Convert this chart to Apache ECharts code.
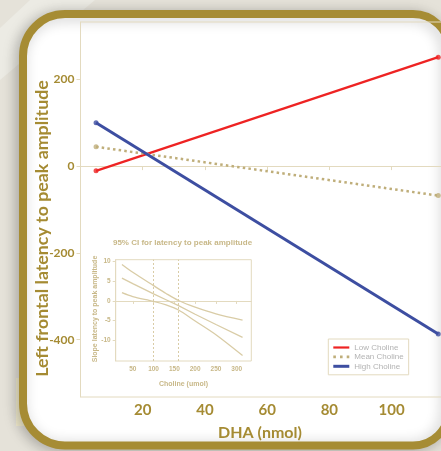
<!DOCTYPE html>
<html>
<head>
<meta charset="utf-8">
<script src="https://cdn.jsdelivr.net/npm/echarts@6/dist/echarts.min.js"></script>
<style>
html,body{margin:0;padding:0;background:#e5e2d9;}
#chart{width:441px;height:451px;}
</style>
</head>
<body>
<div id="chart"></div>
<script>
// ---- main chart data ----
const dha = [5, 115];
const lowCholine = [-11, 251];
const meanCholine = [44.5, -68];
const highCholine = [100, -387];
const mainYTicks = [-400, -200, 0, 200];
const mainXTicks = [20, 40, 60, 80, 100];
const seriesNames = ['Low Choline', 'Mean Choline', 'High Choline'];

// ---- inset (95% CI) data ----
const cholineGrid = [24, 50, 100, 130, 160, 200, 250, 314];
const ciUpper = [9.3, 7.3, 3.9, 1.9, 0.1, -1.6, -3.3, -4.9];
const ciEstimate = [5.8, 4.4, 1.8, 0.3, -1.2, -3.4, -6.0, -9.3];
const ciLower = [2.1, 1.1, -0.1, -1.0, -2.3, -5.1, -8.6, -13.9];
const jnBounds = [100, 160];
const insetXTicks = [50, 100, 150, 200, 250, 300];
const insetYTicks = [-10, -5, 0, 5, 10];

const GOLD = '#a58b33';
const TAN = '#c8b888';
const FRAME = '#e3dabf';
const INSET_LINE = '#d9cca6';
const RED = '#ee2323';
const MEAN = '#bfae7a';
const BLUE = '#3d4ea1';

const pairs = (xs, ys) => xs.map((x, i) => [x, ys[i]]);

const chart = echarts.init(document.getElementById('chart'), null, {renderer: 'canvas'});

const option = {
  backgroundColor: '#e5e2d9',
  animation: false,
  grid: [
    {left: 80.5, top: 22, width: 373.3, bottom: 54, show: true, borderColor: FRAME, borderWidth: 1,
      containLabel: false, outerBoundsMode: 'none'},
    {left: 115.7, top: 259.7, width: 135.6, height: 101.3, show: true, borderColor: FRAME, borderWidth: 1,
      outerBoundsMode: 'none'}
  ],
  xAxis: [
    {
      gridIndex: 0, type: 'value', min: 0, max: 120,
      axisLine: {show: true, lineStyle: {color: FRAME, width: 1}},
      axisTick: {show: true, length: 4, customValues: mainXTicks, lineStyle: {color: FRAME}},
      splitLine: {show: false},
      axisLabel: {customValues: mainXTicks, color: GOLD, fontFamily: 'Lato', fontWeight: 'bold', fontSize: 15, margin: 6}
    },
    {
      gridIndex: 1, type: 'value', min: 9, max: 335,
      axisLine: {show: true, lineStyle: {color: FRAME, width: 1}},
      axisTick: {show: true, length: 3, customValues: insetXTicks, lineStyle: {color: FRAME}},
      splitLine: {show: false},
      axisLabel: {customValues: insetXTicks, color: TAN, fontFamily: 'Liberation Sans', fontWeight: 'bold', fontSize: 6.5, margin: 5}
    }
  ],
  yAxis: [
    {
      gridIndex: 0, type: 'value', min: -532, max: 332,
      axisLine: {show: true, lineStyle: {color: FRAME, width: 1}},
      axisTick: {show: true, length: 4, customValues: mainYTicks, lineStyle: {color: FRAME}},
      splitLine: {show: false},
      axisLabel: {customValues: mainYTicks, color: GOLD, fontFamily: 'Lato', fontWeight: 'bold', fontSize: 12, margin: 6}
    },
    {
      gridIndex: 1, type: 'value', min: -15.3, max: 10.5,
      axisLine: {show: true, lineStyle: {color: FRAME, width: 1}},
      axisTick: {show: true, length: 3, customValues: insetYTicks, lineStyle: {color: FRAME}},
      splitLine: {show: false},
      axisLabel: {customValues: insetYTicks, color: TAN, fontFamily: 'Liberation Sans', fontWeight: 'bold', fontSize: 6.5, margin: 5}
    }
  ],
  legend: {
    data: [
      {name: seriesNames[0], icon: 'path://M0,0h16v2.2h-16z', itemStyle: {color: RED}},
      {name: seriesNames[1], icon: 'path://M0,0h2.6v2.6h-2.6z M6.7,0h2.6v2.6h-2.6z M13.4,0h2.6v2.6h-2.6z', itemStyle: {color: MEAN}},
      {name: seriesNames[2], icon: 'path://M0,0h16v3h-16z', itemStyle: {color: BLUE}}
    ],
    orient: 'vertical',
    left: 328.3, top: 339,
    padding: [4, 5, 4, 5],
    itemWidth: 16, itemHeight: 9, itemGap: 0.4,
    borderColor: FRAME, borderWidth: 1,
    backgroundColor: '#ffffff',
    textStyle: {color: '#b3b3b3', fontFamily: 'Liberation Sans', fontSize: 8, lineHeight: 9}
  },
  series: [
    {name: 'Low Choline', type: 'line', xAxisIndex: 0, yAxisIndex: 0, symbol: 'none',
      data: pairs(dha, lowCholine), color: RED, lineStyle: {color: RED, width: 2.2}, z: 3},
    {name: 'Mean Choline', type: 'line', xAxisIndex: 0, yAxisIndex: 0, symbol: 'none',
      data: pairs(dha, meanCholine), color: MEAN, lineStyle: {color: MEAN, width: 2.5, type: [2.5, 3.2]}, z: 3},
    {name: 'High Choline', type: 'line', xAxisIndex: 0, yAxisIndex: 0, symbol: 'none',
      data: pairs(dha, highCholine), color: BLUE, lineStyle: {color: BLUE, width: 3}, z: 3},
    {name: 'lowEnds', type: 'scatter', xAxisIndex: 0, yAxisIndex: 0, symbolSize: 5,
      data: pairs(dha, lowCholine), itemStyle: {color: RED}, z: 4},
    {name: 'meanEnds', type: 'scatter', xAxisIndex: 0, yAxisIndex: 0, symbolSize: 5,
      data: pairs(dha, meanCholine), itemStyle: {color: MEAN}, z: 4},
    {name: 'highEnds', type: 'scatter', xAxisIndex: 0, yAxisIndex: 0, symbolSize: 5,
      data: pairs(dha, highCholine), itemStyle: {color: BLUE}, z: 4},
    {name: 'ciUpper', type: 'line', xAxisIndex: 1, yAxisIndex: 1, symbol: 'none', smooth: 0.3,
      data: pairs(cholineGrid, ciUpper), lineStyle: {color: INSET_LINE, width: 1.3},
      markLine: {silent: true, symbol: 'none', label: {show: false},
        lineStyle: {color: INSET_LINE, type: [2, 2], width: 1},
        data: jnBounds.map(v => ({xAxis: v}))}},
    {name: 'ciEstimate', type: 'line', xAxisIndex: 1, yAxisIndex: 1, symbol: 'none',
      data: pairs(cholineGrid, ciEstimate), lineStyle: {color: INSET_LINE, width: 1.3}},
    {name: 'ciLower', type: 'line', xAxisIndex: 1, yAxisIndex: 1, symbol: 'none', smooth: 0.3,
      data: pairs(cholineGrid, ciLower), lineStyle: {color: INSET_LINE, width: 1.3}}
  ],
  graphic: [
    {type: 'polygon', z: -30, shape: {points: [[0, 28], [30, 0], [95, 0], [0, 80]]}, style: {fill: '#ecebe4'}},
    {type: 'rect', z: -25, shape: {x: 16, y: 378, width: 10, height: 48}, style: {fill: '#f2ecce'}},
    {type: 'rect', z: -20,
      shape: {x: 23, y: 14, width: 426, height: 431.5, r: [42, 36, 36, 42]},
      style: {fill: '#ffffff', stroke: '#a68c34', lineWidth: 8,
        shadowBlur: 14, shadowColor: 'rgba(0,0,0,0.22)', shadowOffsetX: -3, shadowOffsetY: 2}},
    {type: 'text', z: 10, x: 42, y: 228.5, rotation: Math.PI / 2,
      style: {text: 'Left frontal latency to peak amplitude', fill: GOLD, font: 'bold 17.8px Lato',
        textAlign: 'center', textVerticalAlign: 'middle'}},
    {type: 'text', z: 10, x: 260, y: 433,
      style: {text: 'DHA (nmol)', fill: GOLD, font: 'bold 16px Lato', textAlign: 'center', textVerticalAlign: 'middle'}},
    {type: 'text', z: 10, x: 182.5, y: 242.7,
      style: {text: '95% CI for latency to peak amplitude', fill: TAN, font: 'bold 8px "Liberation Sans"',
        textAlign: 'center', textVerticalAlign: 'middle'}},
    {type: 'text', z: 10, x: 95, y: 309, rotation: Math.PI / 2,
      style: {text: 'Slope latency to peak amplitude', fill: TAN, font: 'bold 7px "Liberation Sans"',
        textAlign: 'center', textVerticalAlign: 'middle'}},
    {type: 'text', z: 10, x: 183.5, y: 384,
      style: {text: 'Choline (umol)', fill: TAN, font: 'bold 7px "Liberation Sans"',
        textAlign: 'center', textVerticalAlign: 'middle'}}
  ]
};
chart.setOption(option);
</script>
</body>
</html>
